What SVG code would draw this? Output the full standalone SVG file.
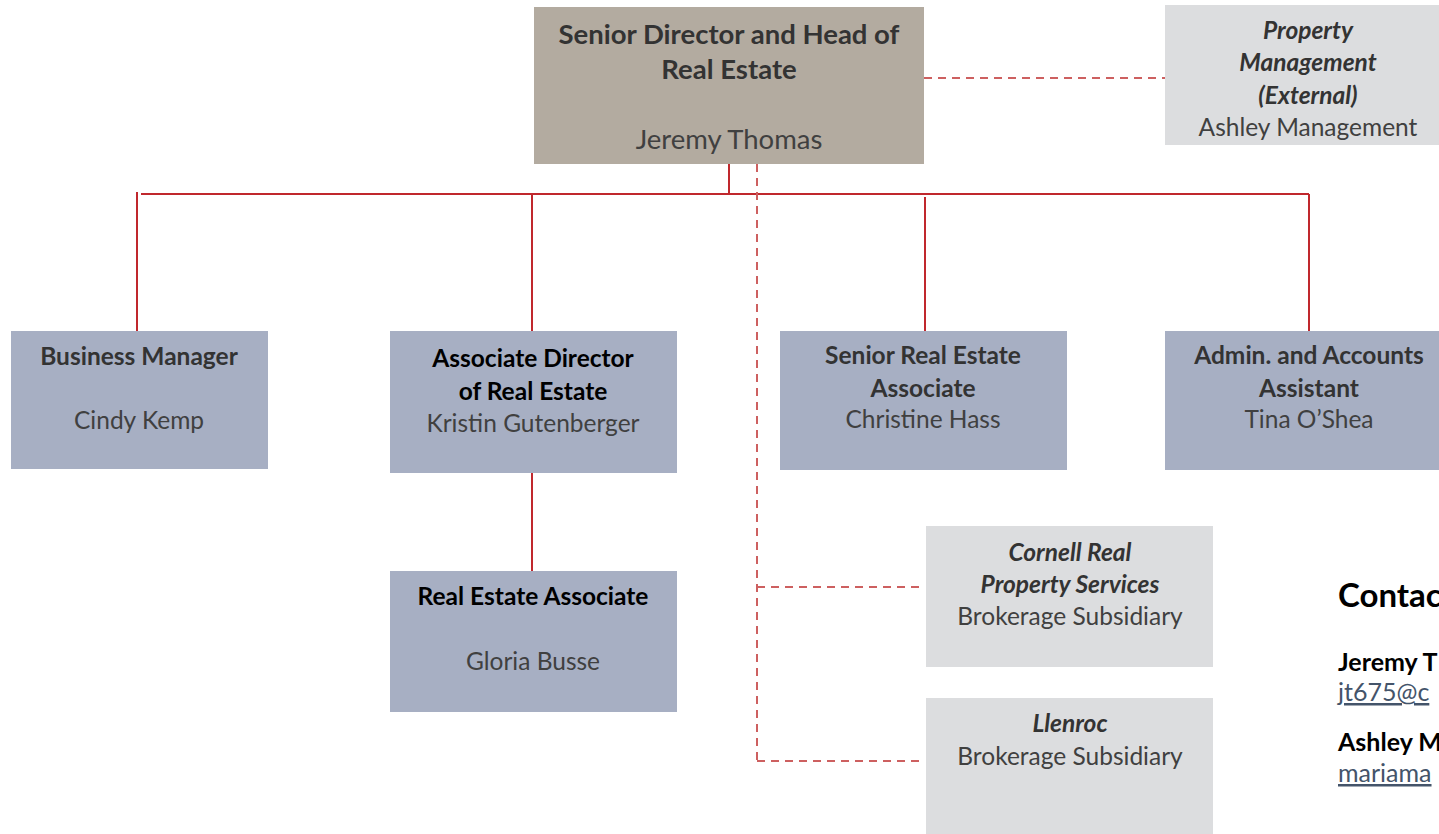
<svg xmlns="http://www.w3.org/2000/svg" width="1439" height="834" viewBox="0 0 1439 834">
<style>
.t{font-family:Lato,"Liberation Sans",sans-serif;text-anchor:middle;font-size:24.5px}
.t.h{font-size:27.5px}
.b{font-weight:bold;fill:#333}
.k{font-weight:bold;fill:#000}
.n{fill:#404040}
.i{font-style:italic;font-weight:bold;fill:#333}
.top{fill:#b3aba0}
.blue{fill:#a7afc3}
.grey{fill:#dcdddf}
.solid{stroke:#c0282d;stroke-width:2;fill:none}
.dash{stroke:#cd6060;stroke-width:2;fill:none;stroke-dasharray:8 6}
.c{font-family:Lato,"Liberation Sans",sans-serif;font-size:25px}
.c.ch{font-size:33px;font-weight:bold;fill:#000}
.c.cb{font-weight:bold;fill:#000}
.c.cl{fill:#44546a;text-decoration:underline}
</style>
<rect width="1439" height="834" fill="#fff"/>
<g id="connectors">
<path class="solid" d="M729 164V194M141 194H1309M137 192V331M532 194V331M925 197V331M1309 194V331M532 473V571"/>
<path class="dash" d="M757 164V761M757 587H920M757 761H920M924 78H1165"/>
</g>
<g id="n-head">
<rect class="top" x="534" y="7" width="390" height="157"/>
<text class="t h b" x="729" y="44">Senior Director and Head of</text>
<text class="t h b" x="729" y="79">Real Estate</text>
<text class="t h n" x="729" y="149">Jeremy Thomas</text>
</g>
<g id="n-property">
<rect class="grey" x="1165" y="5" width="290" height="140"/>
<text class="t i" x="1308" y="39">Property</text>
<text class="t i" x="1308" y="71">Management</text>
<text class="t i" x="1308" y="104">(External)</text>
<text class="t n" x="1308" y="136">Ashley Management</text>
</g>
<g id="n-business">
<rect class="blue" x="11" y="331" width="257" height="138"/>
<text class="t b" x="139" y="365">Business Manager</text>
<text class="t n" x="139" y="429">Cindy Kemp</text>
</g>
<g id="n-assocdir">
<rect class="blue" x="390" y="331" width="287" height="142"/>
<text class="t k" x="533" y="367">Associate Director</text>
<text class="t k" x="533" y="400">of Real Estate</text>
<text class="t n" x="533" y="432">Kristin Gutenberger</text>
</g>
<g id="n-senior">
<rect class="blue" x="780" y="331" width="287" height="139"/>
<text class="t b" x="923" y="364">Senior Real Estate</text>
<text class="t b" x="923" y="397">Associate</text>
<text class="t n" x="923" y="428">Christine Hass</text>
</g>
<g id="n-admin">
<rect class="blue" x="1165" y="331" width="290" height="139"/>
<text class="t b" x="1309" y="364">Admin. and Accounts</text>
<text class="t b" x="1309" y="397">Assistant</text>
<text class="t n" x="1309" y="428">Tina O’Shea</text>
</g>
<g id="n-rea">
<rect class="blue" x="390" y="571" width="287" height="141"/>
<text class="t k" x="533" y="605">Real Estate Associate</text>
<text class="t n" x="533" y="670">Gloria Busse</text>
</g>
<g id="n-cornell">
<rect class="grey" x="926" y="526" width="287" height="141"/>
<text class="t i" x="1070" y="561">Cornell Real</text>
<text class="t i" x="1070" y="593">Property Services</text>
<text class="t n" x="1070" y="625">Brokerage Subsidiary</text>
</g>
<g id="n-llenroc">
<rect class="grey" x="926" y="698" width="287" height="136"/>
<text class="t i" x="1070" y="732">Llenroc</text>
<text class="t n" x="1070" y="765">Brokerage Subsidiary</text>
</g>
<g id="contacts">
<text class="c ch" x="1338" y="607">Contac</text>
<text class="c cb" x="1338" y="671">Jeremy T</text>
<text class="c cl" x="1338" y="701">jt675@c</text>
<text class="c cb" x="1338" y="751">Ashley M</text>
<text class="c cl" x="1338" y="782">mariama</text>
</g>
</svg>
